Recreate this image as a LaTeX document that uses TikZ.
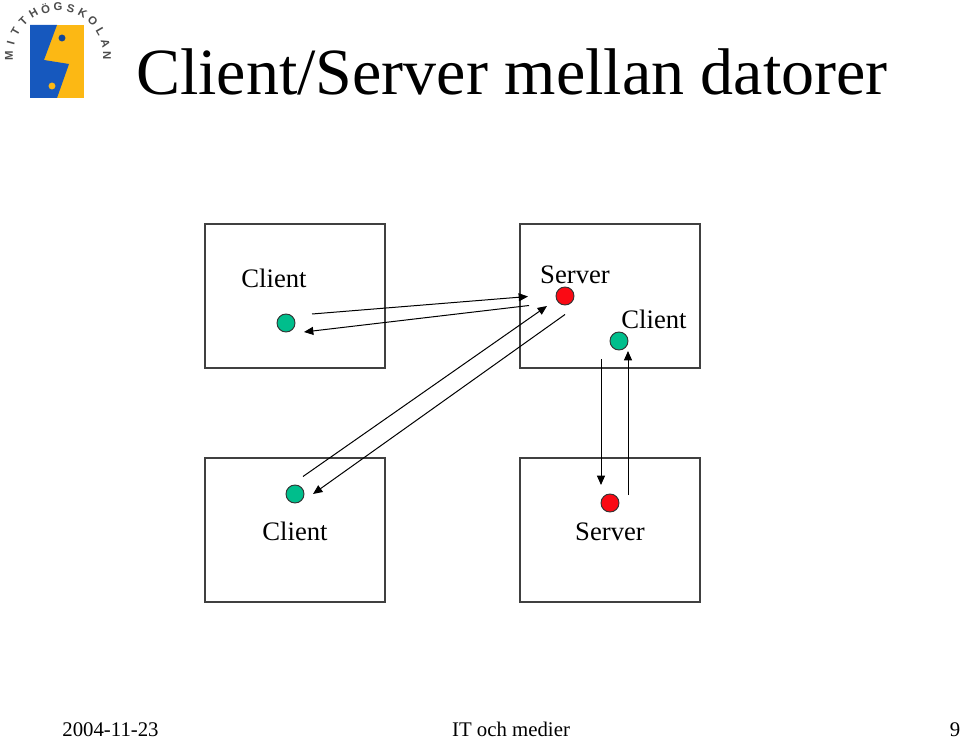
\documentclass[tikz,border=0pt]{standalone}
\usepackage{fontspec}
\setmainfont{Liberation Serif}
\newfontfamily\logofont{Liberation Sans}
\usetikzlibrary{arrows.meta}
\definecolor{hostgreen}{RGB}{0,190,140}
\definecolor{hostred}{RGB}{250,10,20}
\definecolor{logoblue}{RGB}{22,88,190}
\definecolor{logoyellow}{RGB}{252,184,20}
\tikzstyle{hostbox} = [rectangle, draw=black!75, line width=0.9pt, minimum width=135pt, minimum height=108pt]
\tikzstyle{client} = [circle, draw=black!80, fill=hostgreen, line width=0.7pt, inner sep=0pt, minimum size=13.5pt]
\tikzstyle{server} = [circle, draw=black!80, fill=hostred, line width=0.7pt, inner sep=0pt, minimum size=13.5pt]
\tikzstyle{label} = [anchor=base, inner sep=0pt, font=\fontsize{20}{24}\selectfont]
\tikzstyle{footer} = [anchor=base, inner sep=0pt, font=\fontsize{15.6}{18}\selectfont]
\tikzstyle{arrow} = [line width=0.75pt,-{Triangle[length=7pt,width=6pt]}]
\begin{document}
\begin{tikzpicture}[x=0.75pt,y=-0.75pt]
\useasboundingbox (0,0) rectangle (960,738);
% logo
\fill [logoyellow] (30,25) rectangle (84,98);
\fill [logoblue] (30,25) -- (57,25) -- (44,60) -- (69,64) -- (57,98) -- (30,98) -- cycle;
\fill [logoblue!80!black] (62,38) circle (2.6pt);
\fill [logoyellow] (52,86) circle (2.6pt);
\foreach \ltr [count=\i from 0] in {M,I,T,T,H,Ö,G,S,K,O,L,A,N}
  \node [font=\logofont\bfseries\fontsize{8.5}{8.5}\selectfont, text=black!70, inner sep=0pt, rotate=90-\i*15] at ({58+49*cos(180-\i*15)},{56-49*sin(180-\i*15)}) {\ltr};
% title
\node (title) [anchor=base west, inner sep=0pt, font=\fontsize{49.5}{56}\selectfont] at (136,95) {Client/Server mellan datorer};
% boxes
\node (boxa) [hostbox] at (295,296) {};
\node (boxb) [hostbox] at (610,296) {};
\node (boxc) [hostbox] at (295,530) {};
\node (boxd) [hostbox] at (610,530) {};
% labels
\node (lblclienta) [label] at (274,287) {Client};
\node (lblserverb) [label] at (575,283) {Server};
\node (lblclientb) [label] at (654,328) {Client};
\node (lblclientc) [label] at (295,540) {Client};
\node (lblserverd) [label] at (610,540) {Server};
% hosts
\node (clienta) [client] at (286,323) {};
\node (serverb) [server] at (565,296) {};
\node (clientb) [client] at (619,341) {};
\node (clientc) [client] at (295,494) {};
\node (serverd) [server] at (610,503) {};
% free ends of the connectors
\coordinate (a1) at (312,314);
\coordinate (a2) at (528,296.5);
\coordinate (b1) at (529,305.5);
\coordinate (b2) at (304,332);
\coordinate (c1) at (303,476.5);
\coordinate (c2) at (547,306);
\coordinate (d1) at (565,314.5);
\coordinate (d2) at (313,494);
\coordinate (e1) at (601,359);
\coordinate (e2) at (601,485);
\coordinate (f1) at (628,495);
\coordinate (f2) at (628,351);
\draw [arrow] (a1) -- (a2);
\draw [arrow] (b1) -- (b2);
\draw [arrow] (c1) -- (c2);
\draw [arrow] (d1) -- (d2);
\draw [arrow] (e1) -- (e2);
\draw [arrow] (f1) -- (f2);
% footer
\node (date) [footer] at (110.5,736) {2004-11-23};
\node (course) [footer] at (511,736) {IT och medier};
\node (page) [footer] at (955,736) {9};
\end{tikzpicture}
\end{document}
